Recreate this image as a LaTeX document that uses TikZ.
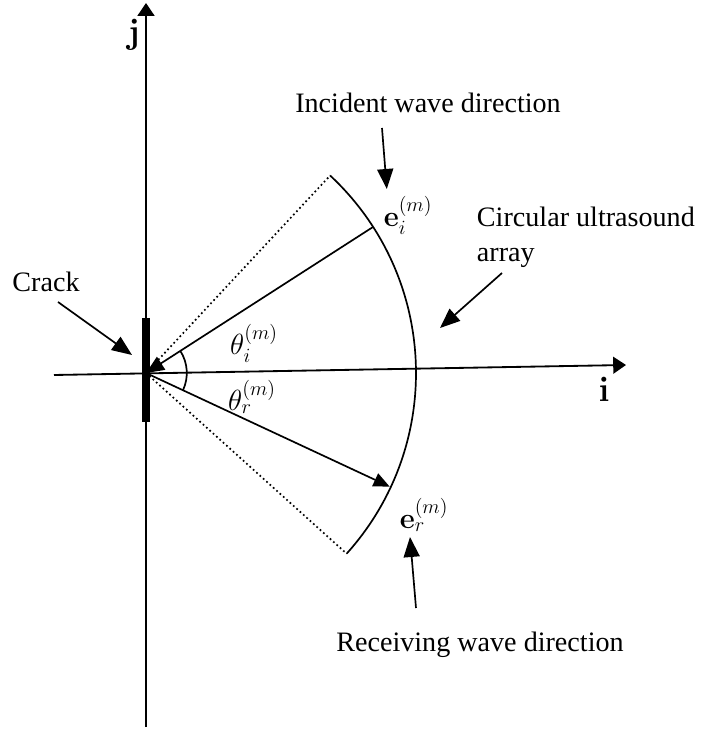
\documentclass[tikz,border=0pt]{standalone}
\usepackage{amsmath}
\usepackage[no-math]{fontspec}
\setmainfont{Liberation Serif}
\usetikzlibrary{arrows.meta,positioning,calc}

\begin{document}
\begin{tikzpicture}[
    font=\fontsize{20}{25}\selectfont,
    axis/.style={line width=1.3pt, -{Triangle[length=0.32cm,width=0.42cm]}},
    pointer/.style={line width=1.2pt, -{Triangle[length=0.5cm,width=0.4cm]}},
    ray/.style={line width=1.2pt},
    mlabel/.style={inner sep=1pt, font=\fontsize{22}{26}\selectfont},
    axlabel/.style={inner sep=1pt, font=\fontsize{24}{28}\selectfont}]
  \useasboundingbox (-3.65,-8.9) rectangle (13.925,9.325);

  % axes
  \coordinate (O) at (0,0);
  \coordinate (ybot) at (0,-8.85);
  \coordinate (ytop) at (0,9.25);
  \coordinate (xleft) at (-2.3,-0.05);
  \coordinate (xright) at (12,0.2);
  \draw[axis] (ybot) -- (ytop);
  \draw[axis] (xleft) -- (xright);
  \node[axlabel] (jlab) at (-0.3,8.45) {$\mathbf{j}$};
  \node[axlabel] (ilab) at (11.45,-0.4) {$\mathbf{i}$};

  % crack
  \coordinate (cracktop) at (0,1.375);
  \coordinate (crackbot) at (0,-1.225);
  \draw[line width=5pt] (cracktop) -- (crackbot);

  % circular array
  \coordinate (arctop) at (47:6.75);
  \coordinate (arcbot) at (-42:6.75);
  \draw[ray] (arctop) arc[start angle=47, end angle=-42, radius=6.75];
  \draw[ray, dotted] (O) -- (arctop);
  \draw[ray, dotted] (O) -- (arcbot);

  % wave directions
  \coordinate (ei) at (32.75:6.75);
  \coordinate (er) at (-25:6.72);
  \draw[ray, -{Triangle[length=0.45cm,width=0.38cm]}] (ei) -- (O);
  \draw[ray, -{Triangle[length=0.4cm,width=0.35cm]}] (O) -- (er);
  \draw[ray] (32.75:1.02) arc[start angle=32.75, end angle=-25, radius=1.02];

  \node[mlabel] (thi) at (2.7,0.75) {$\theta_i^{(m)}$};
  \node[mlabel] (thr) at (2.65,-0.6) {$\theta_r^{(m)}$};
  \node[mlabel] (eilab) at (6.55,3.95) {$\mathbf{e}_i^{(m)}$};
  \node[mlabel] (erlab) at (6.95,-3.55) {$\mathbf{e}_r^{(m)}$};

  % labels and pointers
  \node (inc) at (7.05,6.75) {Incident wave direction};
  \coordinate (incs) at (5.9,6.125);
  \coordinate (inct) at (6.02,4.6);
  \draw[pointer] (incs) -- (inct);

  \node[align=left, anchor=west] (circ) at (8.15,3.4) {Circular ultrasound\\array};
  \coordinate (circs) at (8.9,2.5);
  \coordinate (circt) at (7.35,1.125);
  \draw[pointer] (circs) -- (circt);

  \node (crack) at (-2.5,2.275) {Crack};
  \coordinate (cracks) at (-2.2,1.775);
  \coordinate (crackt) at (-0.35,0.45);
  \draw[pointer] (cracks) -- (crackt);

  \node (rec) at (8.35,-6.8) {Receiving wave direction};
  \coordinate (recs) at (6.75,-5.875);
  \coordinate (rect) at (6.6,-4.1);
  \draw[pointer] (recs) -- (rect);
\end{tikzpicture}
\end{document}
